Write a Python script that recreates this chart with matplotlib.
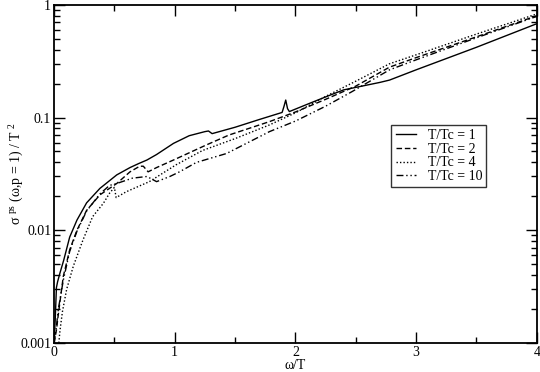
import matplotlib
matplotlib.use("Agg")
import matplotlib.pyplot as plt
from matplotlib.ticker import MultipleLocator, LogLocator, NullFormatter, FixedLocator, FixedFormatter

plt.rcParams['font.family'] = ['Liberation Serif', 'DejaVu Serif']
plt.rcParams['mathtext.fontset'] = 'custom'
plt.rcParams['mathtext.rm'] = 'Liberation Serif'
plt.rcParams['mathtext.it'] = 'Liberation Serif:italic'

# T/Tc = 1
x1 = [0.0, 0.01, 0.02, 0.03, 0.05, 0.08, 0.13, 0.19, 0.27, 0.38, 0.52, 0.63, 0.70, 0.77,
      0.85, 0.99, 1.12, 1.25, 1.28, 1.31, 1.50, 1.70, 1.89, 1.905, 1.92, 1.935, 1.95,
      2.12, 2.30, 2.40, 2.53, 2.70, 2.78, 3.0, 3.5, 4.0]
y1 = [0.001, 0.0016, 0.0031, 0.0035, 0.0042, 0.0054, 0.0087, 0.0123, 0.0175, 0.0235, 0.031,
      0.036, 0.039, 0.042, 0.047, 0.059, 0.069, 0.075, 0.076, 0.072, 0.082, 0.096, 0.111,
      0.125, 0.143, 0.12, 0.113, 0.134, 0.160, 0.176, 0.188, 0.205, 0.215, 0.265, 0.42, 0.68]

# T/Tc = 2
x2 = [0.0, 0.02, 0.036, 0.077, 0.13, 0.19, 0.27, 0.38, 0.52, 0.63, 0.71, 0.74, 0.78, 0.85,
      0.99, 1.26, 1.45, 1.785, 2.0, 2.25, 2.5, 2.78, 3.0, 3.5, 4.0]
y2 = [0.001, 0.0013, 0.0018, 0.0039, 0.0067, 0.010, 0.015, 0.0206, 0.026, 0.033, 0.037,
      0.037, 0.033, 0.036, 0.042, 0.057, 0.070, 0.092, 0.112, 0.145, 0.19, 0.28, 0.34, 0.52, 0.80]

# T/Tc = 4
x4 = [0.04, 0.05, 0.07, 0.105, 0.16, 0.24, 0.32, 0.41, 0.46, 0.50, 0.515, 0.60, 0.79, 1.01,
      1.23, 1.5, 1.785, 2.0, 2.25, 2.5, 2.78, 3.0, 3.5, 4.0]
y4 = [0.001, 0.0013, 0.0019, 0.003, 0.0048, 0.0082, 0.0132, 0.0174, 0.0213, 0.024, 0.0195,
      0.022, 0.027, 0.038, 0.051, 0.065, 0.086, 0.11, 0.154, 0.21, 0.30, 0.36, 0.55, 0.83]

# T/Tc = 10
x10 = [0.0, 0.02, 0.036, 0.077, 0.13, 0.19, 0.27, 0.38, 0.46, 0.52, 0.65, 0.77, 0.85, 0.96,
       1.04, 1.18, 1.43, 1.785, 2.0, 2.25, 2.47, 2.78, 3.0, 3.5, 4.0]
y10 = [0.001, 0.0014, 0.002, 0.0036, 0.0065, 0.0098, 0.0148, 0.021, 0.025, 0.026, 0.029,
       0.030, 0.027, 0.030, 0.033, 0.040, 0.048, 0.075, 0.093, 0.126, 0.17, 0.265, 0.325, 0.51, 0.79]

labels = ['T/Tc = 1', 'T/Tc = 2', 'T/Tc = 4', 'T/Tc = 10']

fig = plt.figure(figsize=(5.4, 3.72), dpi=100)
ax = fig.add_axes([0.1, 0.078, 0.894, 0.909])

lw = 1.0
ax.plot(x1, y1, color='black', lw=lw, ls='-', label=labels[0])
ax.plot(x2, y2, color='black', lw=lw, ls=(0, (4, 2)), label=labels[1])
ax.plot(x4, y4, color='black', lw=lw, ls=(0, (1, 1.5)), label=labels[2])
ax.plot(x10, y10, color='black', lw=lw, ls=(0, (5, 2, 1, 2, 1, 2)), label=labels[3])

ax.set_yscale('log')
ax.set_xlim(0, 4)
ax.set_ylim(0.001, 1)

ax.xaxis.set_major_locator(MultipleLocator(1))
ax.xaxis.set_minor_locator(MultipleLocator(0.5))
ax.yaxis.set_major_locator(FixedLocator([0.001, 0.01, 0.1, 1]))
ax.yaxis.set_major_formatter(FixedFormatter(['0.001', '0.01', '0.1', '1']))
ax.yaxis.set_minor_locator(LogLocator(base=10, subs=range(2, 10)))
ax.yaxis.set_minor_formatter(NullFormatter())

ax.tick_params(which='both', direction='in', top=True, right=True, labelsize=10, width=1.0)
ax.tick_params(which='major', length=8, pad=2)
ax.tick_params(which='minor', length=4)
for s in ax.spines.values():
    s.set_linewidth(1.3)

ax.set_xlabel('ω/T', fontsize=10, labelpad=0)
ax.set_ylabel(r'σ $^{\rm ps}$ (ω,p = 1) / T $^{\rm 2}$', fontsize=10)
ax.yaxis.set_label_coords(-0.058, 0.5)

leg = ax.legend(loc='upper left', bbox_to_anchor=(0.699, 0.645), fontsize=10,
                frameon=True, fancybox=False, edgecolor='black', handlelength=1.5,
                handletextpad=0.8, borderpad=0.3, labelspacing=0.05, borderaxespad=0)
leg.get_frame().set_linewidth(1.0)

fig.savefig('out.png', dpi=100)
